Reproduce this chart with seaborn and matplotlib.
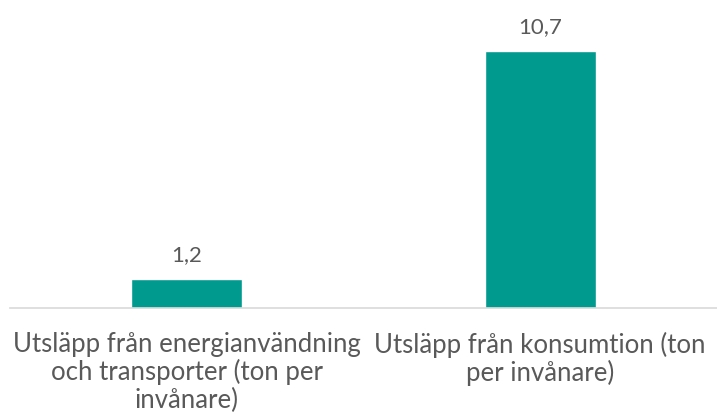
"""
Utsläpp per invånare - two bar comparison
"""

import matplotlib
matplotlib.use("Agg")
import matplotlib.pyplot as plt
import pandas as pd
import seaborn as sns

# ============ DATA ============
categories = [
    "Utsläpp från energianvändning\noch transporter (ton per\ninvånare)",
    "Utsläpp från konsumtion (ton\nper invånare)",
]
values = [1.2, 10.7]
value_labels = ["1,2", "10,7"]

BAR_COLOR = "#009A8F"
TEXT_COLOR = "#595959"
AXIS_COLOR = "#D9D9D9"


def main():
    sns.set_theme(style="white")
    plt.rcParams["font.family"] = ["Lato", "DejaVu Sans"]

    df = pd.DataFrame({"kategori": categories, "varde": values})

    fig = plt.figure(figsize=(7.17, 4.19), dpi=100)
    ax = fig.add_axes([10 / 717, 0.265, 1 - 10 / 717, 0.687])

    sns.barplot(data=df, x="kategori", y="varde", color=BAR_COLOR,
                width=0.315, saturation=1, ax=ax)

    # value labels above bars
    for i, (v, lab) in enumerate(zip(values, value_labels)):
        ax.annotate(lab, (i, v), xytext=(0, 10), textcoords="offset points",
                    ha="center", va="bottom", fontsize=16,
                    color=TEXT_COLOR, fontweight="normal")

    ax.set_xlim(-0.5, 1.5)
    ax.set_ylim(0, 12)
    ax.set_xlabel("")
    ax.set_ylabel("")
    ax.set_yticks([])

    for side in ["top", "right", "left"]:
        ax.spines[side].set_visible(False)
    ax.spines["bottom"].set_color(AXIS_COLOR)
    ax.spines["bottom"].set_linewidth(1.2)

    ax.tick_params(axis="x", length=0, pad=17, labelsize=18.5,
                   labelcolor=TEXT_COLOR)
    for t in ax.get_xticklabels():
        t.set_fontweight("normal")
        t.set_multialignment("center")
        t.set_linespacing(1.12)

    plt.savefig("out.png", dpi=100)


if __name__ == "__main__":
    main()
